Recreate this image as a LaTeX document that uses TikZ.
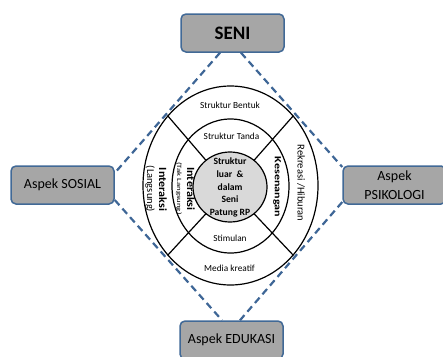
\documentclass[tikz,border=0pt]{standalone}
\usepackage{fontspec}
\setmainfont{Carlito}
\usetikzlibrary{shapes.geometric,calc}
\definecolor{boxfill}{HTML}{A6A6A6}
\definecolor{boxline}{RGB}{65,105,150}
\definecolor{dashblue}{RGB}{62,102,150}
\definecolor{corefill}{HTML}{D9D9D9}
\tikzset{
  aspect/.style={draw=boxline, line width=1.5pt, fill=boxfill, rounded corners=5pt,
    minimum width=103pt, minimum height=38pt, inner sep=0pt, align=center,
    font=\fontsize{14}{19}\selectfont},
  ring/.style={ellipse, draw=black, line width=1.2pt, inner sep=0pt},
  spoke/.style={draw=black, line width=1.2pt},
  link/.style={draw=dashblue, line width=2.2pt, dash pattern=on 7pt off 4.5pt},
  lbl/.style={font=\fontsize{9.3}{11}\selectfont, inner sep=0pt},
  vlbl/.style={rotate=-90, inner sep=0pt},
}
\begin{document}
\begin{tikzpicture}[x=1pt,y=-1pt]
\useasboundingbox (0,0) rectangle (443,356);
% rings
\node[ring, minimum width=175pt, minimum height=199pt] (outer) at (230.5,185.5) {};
\node[ring, minimum width=117pt, minimum height=134pt] (middle) at (230.5,186) {};
\node[ring, fill=corefill, minimum width=74pt, minimum height=70pt] (inner) at (230,187) {};
% spokes
\foreach \a in {48,132,228,312} {
  \draw[spoke] (outer.\a) -- (inner.\a);
}
% boxes
\node[aspect, font=\bfseries\fontsize{19}{22}\selectfont] (seni) at (232.5,33) {SENI};
\node[aspect] (sosial) at (62.5,185) {Aspek SOSIAL};
\node[aspect] (psiko) at (394.5,185) {Aspek\\PSIKOLOGI};
\node[aspect] (edu) at (231.5,340) {Aspek EDUKASI};
% dashed links
\coordinate (s1) at ($(seni.south)+(-12.5,0)$);
\coordinate (s2) at ($(seni.south)+(8.5,0)$);
\coordinate (so1) at ($(sosial.east)+(0,-12)$);
\coordinate (so2) at ($(sosial.east)+(0,15)$);
\coordinate (p1) at ($(psiko.west)+(0,-18)$);
\coordinate (p2) at ($(psiko.west)+(0,17)$);
\coordinate (e1) at ($(edu.north)+(-9.5,0)$);
\coordinate (e2) at ($(edu.north)+(8.5,0)$);
\draw[link] (s1) -- (so1);
\draw[link] (s2) -- (p1);
\draw[link] (so2) -- (e1);
\draw[link] (p2) -- (e2);
% ring labels
\node[lbl] (tb) at (230,105) {Struktur Bentuk};
\node[lbl] (tt) at (231.5,136) {Struktur Tanda};
\node[lbl] (ts) at (230,238) {Stimulan};
\node[lbl] (tm) at (229.5,268) {Media kreatif};
\node[align=center, inner sep=0pt, font=\bfseries\fontsize{9.6}{12.8}\selectfont] (core) at (230,187.5)
  {Struktur\\luar\ \ \&\\dalam\\Seni\\Patung RP};
\node[vlbl, font=\fontsize{10.5}{12}\selectfont] (lang) at (150,189) {(Langsung)};
\node[vlbl, font=\bfseries\fontsize{11}{12}\selectfont] (int1) at (163,189.5) {\scalebox{1.1}[1]{Interaksi}};
\node[vlbl, font=\fontsize{6.5}{8}\selectfont] (tak) at (179,188.5) {\scalebox{1.35}[1]{(Tak Langsung)}};
\node[vlbl, font=\bfseries\fontsize{11}{12}\selectfont] (int2) at (191,189) {\scalebox{1.1}[1]{Interaksi}};
\node[vlbl, font=\bfseries\fontsize{9.4}{12}\selectfont] (kes) at (277,187) {\scalebox{1.28}[1]{Kesenangan}};
\node[vlbl, font=\fontsize{10.5}{12}\selectfont] (rek) at (301,183) {Rekreasi /Hiburan};
\end{tikzpicture}
\end{document}
